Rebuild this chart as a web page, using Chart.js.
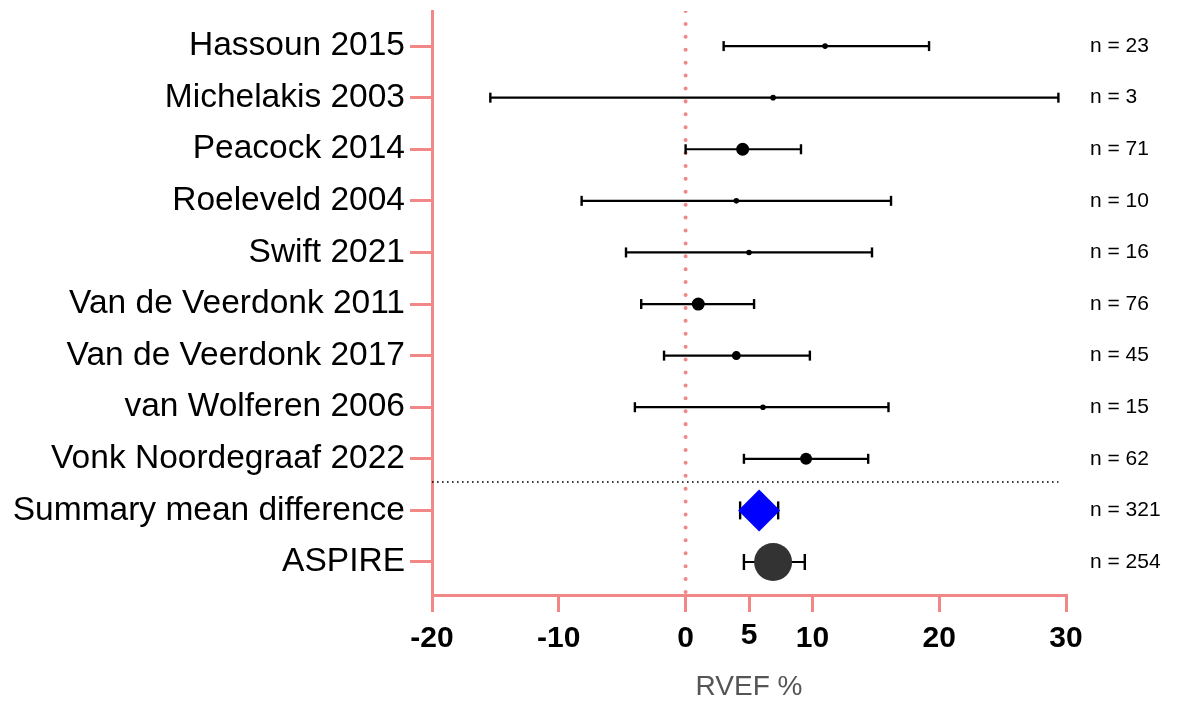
<!DOCTYPE html>
<html><head><meta charset="utf-8">
<script src="https://cdn.jsdelivr.net/npm/chart.js@4/dist/chart.umd.min.js"></script>
<style>html,body{margin:0;padding:0;background:#fff;overflow:hidden;width:1180px;height:704px}#wrap{position:relative;top:-10px;width:1180px;height:714px}</style>
</head><body><div id="wrap"><canvas id="c"></canvas></div>
<script>
// ---- data ----
const studies = ['Hassoun 2015','Michelakis 2003','Peacock 2014','Roeleveld 2004','Swift 2021',
  'Van de Veerdonk 2011','Van de Veerdonk 2017','van Wolferen 2006','Vonk Noordegraaf 2022',
  'Summary mean difference','ASPIRE'];
const sampleSizes = [23, 3, 71, 10, 16, 76, 45, 15, 62, 321, 254];
const meanDiff = [11.0, 6.9, 4.5, 4.0, 5.0, 1.0, 4.0, 6.1, 9.5, 5.8, 6.9];
const ciLow    = [3.0, -15.4, 0.0, -8.2, -4.7, -3.5, -1.7, -4.0, 4.6, 4.3, 4.6];
const ciHigh   = [19.2, 29.4, 9.1, 16.2, 14.7, 5.4, 9.8, 16.0, 14.4, 7.3, 9.4];
const xTicks = [-20, -10, 0, 5, 10, 20, 30];
const referenceValue = 0;
const separatorRow = 8.45;
const separatorRange = [-20, 29.4];

// ---- styles ----
const markerRadius = [2.8, 2.8, 6.5, 2.8, 2.8, 6.5, 4.5, 2.8, 6, 21, 19];
const markerStyle = ['circle','circle','circle','circle','circle','circle','circle','circle','circle','rectRot','circle'];
const markerColor = ['#000','#000','#000','#000','#000','#000','#000','#000','#000','#0000ff','#333333'];
const capHalf = [5, 5, 5, 5, 5, 5, 5, 5, 5, 9, 8];
const PINK = '#f28787';
const Y_MIN = -0.68, Y_MAX = 10.64;
const SANS = "'Liberation Sans',Arial,sans-serif";

const datasets = [];
datasets.push({
  type:'scatter', label:'markers', order:0,
  data: meanDiff.map((v,i)=>({x:v, y:i})),
  pointRadius: markerRadius, pointHoverRadius: markerRadius,
  pointStyle: markerStyle, backgroundColor: markerColor, pointBorderWidth:0, borderWidth:0
});
studies.forEach((s,i)=>{
  datasets.push({
    type:'line', label:'ci'+i, order:1,
    data:[{x:ciLow[i], y:i},{x:ciHigh[i], y:i}],
    borderColor:'#000', borderWidth:2.2,
    pointStyle:'line', rotation:90, pointRadius:capHalf[i], pointHoverRadius:capHalf[i],
    pointBorderColor:'#000', pointBorderWidth:2.4
  });
});
datasets.push({
  type:'line', label:'ref', order:2,
  data:[{x:referenceValue, y:Y_MIN},{x:referenceValue, y:Y_MAX}],
  borderColor:PINK, borderWidth:4, borderDash:[0.01, 12.9], borderCapStyle:'round', pointRadius:0
});
datasets.push({
  type:'line', label:'sep', order:2,
  data:[{x:separatorRange[0], y:separatorRow},{x:separatorRange[1], y:separatorRow}],
  borderColor:'#000', borderWidth:1.6, borderDash:[1.6, 3.4], pointRadius:0
});

const rowTicks = s => { s.ticks = studies.map((_,i)=>({value:i})); };

new Chart(document.getElementById('c'), {
  type:'scatter',
  data:{datasets},
  options:{
    responsive:true, maintainAspectRatio:false, animation:false,
    layout:{padding:0},
    plugins:{legend:{display:false}, tooltip:{enabled:false}},
    scales:{
      x:{
        type:'linear', min:-20, max:30,
        afterBuildTicks: s => { s.ticks = xTicks.map(v=>({value:v})); },
        afterFit: s => { s.height = 109; },
        ticks:{color:'#000', padding:9, maxRotation:0,
          font: c => ({family:SANS, size:30, weight:'bold', lineHeight: (c.tick && c.tick.value === 5) ? 1.0 : 1.2})},
        grid:{drawOnChartArea:false, color:PINK, lineWidth:3, tickLength:17},
        border:{color:PINK, width:3},
        title:{display:true, text:'RVEF %', color:'#555',
          font:{family:SANS, size:28, lineHeight:1}, padding:{top:0, bottom:3}}
      },
      y:{
        type:'linear', reverse:true, min:Y_MIN, max:Y_MAX,
        afterBuildTicks: rowTicks,
        afterFit: s => { s.width = 432; },
        ticks:{autoSkip:false, color:'#000', padding:5, callback:(v)=>studies[v],
          font:{family:SANS, size:33.5, lineHeight:0.3}},
        grid:{drawOnChartArea:false, color:PINK, lineWidth:3, tickLength:22},
        border:{color:PINK, width:3}
      },
      y2:{
        type:'linear', position:'right', reverse:true, min:Y_MIN, max:Y_MAX,
        afterBuildTicks: rowTicks,
        afterFit: s => { s.width = 114; },
        ticks:{autoSkip:false, color:'#000', padding:0, callback:(v)=>'n = '+sampleSizes[v],
          font:{family:SANS, size:21, lineHeight:0.95}},
        grid:{drawOnChartArea:false, drawTicks:true, tickLength:24, color:'rgba(0,0,0,0)'},
        border:{display:false}
      }
    }
  }
});
</script></body></html>
